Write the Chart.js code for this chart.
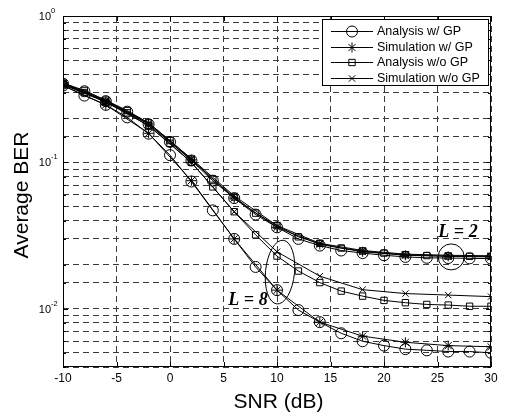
<!DOCTYPE html>
<html>
<head>
<meta charset="utf-8">
<script src="https://cdn.jsdelivr.net/npm/chart.js@4/dist/chart.umd.min.js"></script>
<style>
    html, body {margin: 0; padding: 0; background: #fff;}
</style>
</head>
<body>
<canvas id="ber" width="507" height="415"></canvas>
<script>
// SNR points (dB): analysis every 2 dB, simulation every 4 dB
const snr = [-10, -8, -6, -4, -2, 0, 2, 4, 6, 8, 10, 12, 14, 16, 18, 20, 22, 24, 26, 28, 30]
const snrSim = [-10, -6, -2, 2, 6, 10, 14, 18, 22, 26, 30]

// L = 2
const anaGpL2 = [0.345, 0.306, 0.262, 0.222, 0.182, 0.138, 0.103, 0.075, 0.057, 0.044, 0.036, 0.030, 0.027, 0.025, 0.024, 0.0232, 0.0226, 0.0223, 0.0222, 0.0221, 0.0220]
const simGpL2 = [0.345, 0.262, 0.183, 0.104, 0.057, 0.036, 0.0275, 0.0245, 0.0232, 0.0228, 0.0226]
const anaNoGpL2 = [0.348, 0.31, 0.266, 0.226, 0.186, 0.141, 0.105, 0.077, 0.058, 0.045, 0.037, 0.031, 0.028, 0.026, 0.0248, 0.024, 0.0234, 0.0231, 0.0229, 0.0228, 0.0228]
const simNoGpL2 = [0.35, 0.265, 0.186, 0.106, 0.059, 0.037, 0.028, 0.025, 0.0236, 0.0232, 0.023]

// L = 8
const anaGpL8 = [0.335, 0.286, 0.247, 0.203, 0.157, 0.112, 0.074, 0.047, 0.030, 0.0193, 0.0134, 0.0098, 0.0081, 0.0068, 0.0060, 0.0056, 0.0053, 0.0052, 0.0051, 0.0051, 0.0050]
const simGpL8 = [0.335, 0.247, 0.158, 0.075, 0.030, 0.0134, 0.0081, 0.0065, 0.0059, 0.0056, 0.0055]
const anaNoGpL8 = [0.34, 0.30, 0.258, 0.218, 0.178, 0.135, 0.100, 0.068, 0.046, 0.032, 0.0229, 0.0181, 0.0151, 0.0132, 0.0122, 0.0114, 0.0110, 0.0107, 0.0106, 0.0104, 0.0104]
const simNoGpL8 = [0.34, 0.258, 0.178, 0.100, 0.046, 0.0245, 0.0167, 0.0135, 0.0127, 0.0124, 0.0121]

const xTicks = [-10, -5, 0, 5, 10, 15, 20, 25, 30]
const yDecades = [1, 0.1, 0.01]
const yExponents = ['0', '-1', '-2']
const legendLabels = ['Analysis w/ GP', 'Simulation w/ GP', 'Analysis w/o GP', 'Simulation w/o GP']
const legendStyles = ['circle', 'star', 'rect', 'crossRot']

const pairs = (xs, ys) => xs.map((x, i) => ({x: x, y: ys[i]}))

function series(xs, ys, style, radius) {
    return {
        data: pairs(xs, ys),
        borderColor: '#000',
        borderWidth: 1,
        pointStyle: style,
        pointRadius: radius,
        pointBorderColor: '#000',
        pointBackgroundColor: 'rgba(0,0,0,0)',
        pointBorderWidth: 1,
        fill: false,
        tension: 0,
    }
}

const markerRadius = {circle: 5.5, star: 5, rect: 4.5, crossRot: 4.5}

const sans = 'Arial, "Liberation Sans", Helvetica, sans-serif'

const extras = {
    id: 'extras',
    afterDraw: (chart) => {
        const {ctx, chartArea: {left, right, top, bottom}} = chart
        const xs = chart.scales.x
        const ys = chart.scales.y
        ctx.save()
        ctx.strokeStyle = '#000'
        ctx.fillStyle = '#000'
        ctx.lineWidth = 1
        ctx.setLineDash([])

        // box
        ctx.strokeRect(left + 0.5, top + 0.5, right - left - 1, bottom - top - 1)

        // inward ticks
        ctx.beginPath()
        xTicks.forEach((v) => {
            const px = Math.round(xs.getPixelForValue(v)) + 0.5
            ctx.moveTo(px, bottom); ctx.lineTo(px, bottom - 5)
            ctx.moveTo(px, top); ctx.lineTo(px, top + 5)
        })
        ys.ticks.forEach((t) => {
            const py = Math.round(ys.getPixelForValue(t.value)) + 0.5
            const len = yDecades.includes(t.value) ? 5 : 3
            ctx.moveTo(left, py); ctx.lineTo(left + len, py)
            ctx.moveTo(right, py); ctx.lineTo(right - len, py)
        })
        ctx.stroke()

        // x tick labels
        ctx.font = '12px ' + sans
        ctx.textAlign = 'center'
        ctx.textBaseline = 'middle'
        xTicks.forEach((v) => {
            ctx.fillText(String(v), xs.getPixelForValue(v), bottom + 12)
        })

        // y decade labels
        yDecades.forEach((v, i) => {
            const py = ys.getPixelForValue(v)
            ctx.font = '11px ' + sans
            ctx.textAlign = 'right'
            ctx.textBaseline = 'middle'
            ctx.fillText('10', left - 12, py + 1)
            ctx.font = '7.5px ' + sans
            ctx.textAlign = 'left'
            ctx.fillText(yExponents[i], left - 12, py - 5)
        })

        // axis titles
        ctx.font = '21px ' + sans
        ctx.textAlign = 'center'
        ctx.textBaseline = 'middle'
        ctx.fillText('SNR (dB)', (left + right) / 2 + 63 / 2 - 30, 402)
        ctx.save()
        ctx.translate(22, 195)
        ctx.rotate(-Math.PI / 2)
        ctx.fillText('Average BER', 0, 0)
        ctx.restore()

        // legend
        const lx = 322, ly = 19, lw = 166, lh = 66
        ctx.fillStyle = '#fff'
        ctx.fillRect(lx, ly, lw, lh)
        ctx.strokeRect(lx + 0.5, ly + 0.5, lw, lh)
        ctx.font = '12.5px ' + sans
        ctx.textAlign = 'left'
        ctx.textBaseline = 'middle'
        legendLabels.forEach((label, i) => {
            const y = Math.round(ly + 12 + i * 15.5) + 0.5
            ctx.beginPath()
            ctx.moveTo(lx + 9, y); ctx.lineTo(lx + 51, y)
            ctx.stroke()
            ctx.fillStyle = 'rgba(0,0,0,0)'
            Chart.helpers.drawPoint(ctx, {pointStyle: legendStyles[i], radius: markerRadius[legendStyles[i]], borderWidth: 1, rotation: 0}, lx + 30, y)
            ctx.fillStyle = '#000'
            ctx.fillText(label, lx + 55, y)
        })

        // annotations
        ctx.font = 'italic bold 18px "Liberation Serif", "Times New Roman", serif'
        ctx.textAlign = 'center'
        ctx.textBaseline = 'alphabetic'
        ctx.fillText('L = 2', 458, 237)
        ctx.fillText('L = 8', 248, 305)

        ctx.beginPath()
        ctx.arc(xs.getPixelForValue(26) + 3, ys.getPixelForValue(0.0226), 13, 0, Math.PI * 2)
        ctx.stroke()
        ctx.beginPath()
        ctx.ellipse(xs.getPixelForValue(10) + 3, ys.getPixelForValue(0.0178), 14.5, 32, 0.1, 0, Math.PI * 2)
        ctx.stroke()
        ctx.restore()
    }
}

new Chart(document.getElementById('ber').getContext('2d'), {
    type: 'line',
    data: {
        datasets: [
            series(snr, anaGpL2, 'circle', markerRadius.circle),
            series(snrSim, simGpL2, 'star', markerRadius.star),
            series(snr, anaNoGpL2, 'rect', markerRadius.rect),
            series(snrSim, simNoGpL2, 'crossRot', markerRadius.crossRot),
            series(snr, anaGpL8, 'circle', markerRadius.circle),
            series(snrSim, simGpL8, 'star', markerRadius.star),
            series(snr, anaNoGpL8, 'rect', markerRadius.rect),
            series(snrSim, simNoGpL8, 'crossRot', markerRadius.crossRot),
        ],
    },
    options: {
        responsive: false,
        animation: false,
        devicePixelRatio: 1,
        layout: {padding: {left: 0, top: 16, right: 16, bottom: 0}},
        plugins: {legend: {display: false}, tooltip: {enabled: false}},
        scales: {
            x: {
                type: 'linear',
                min: -10,
                max: 30,
                ticks: {display: false, stepSize: 5},
                grid: {color: '#3a3a3a', lineWidth: 1, drawTicks: false},
                border: {display: false, dash: [6, 4]},
                afterFit: (scale) => { scale.height = 48 },
            },
            y: {
                type: 'logarithmic',
                min: 0.004,
                max: 1,
                ticks: {display: false},
                grid: {color: '#3a3a3a', lineWidth: 1, drawTicks: false},
                border: {display: false, dash: [6, 4]},
                afterFit: (scale) => { scale.width = 63 },
            },
        },
    },
    plugins: [extras],
});
</script>
</body>
</html>
